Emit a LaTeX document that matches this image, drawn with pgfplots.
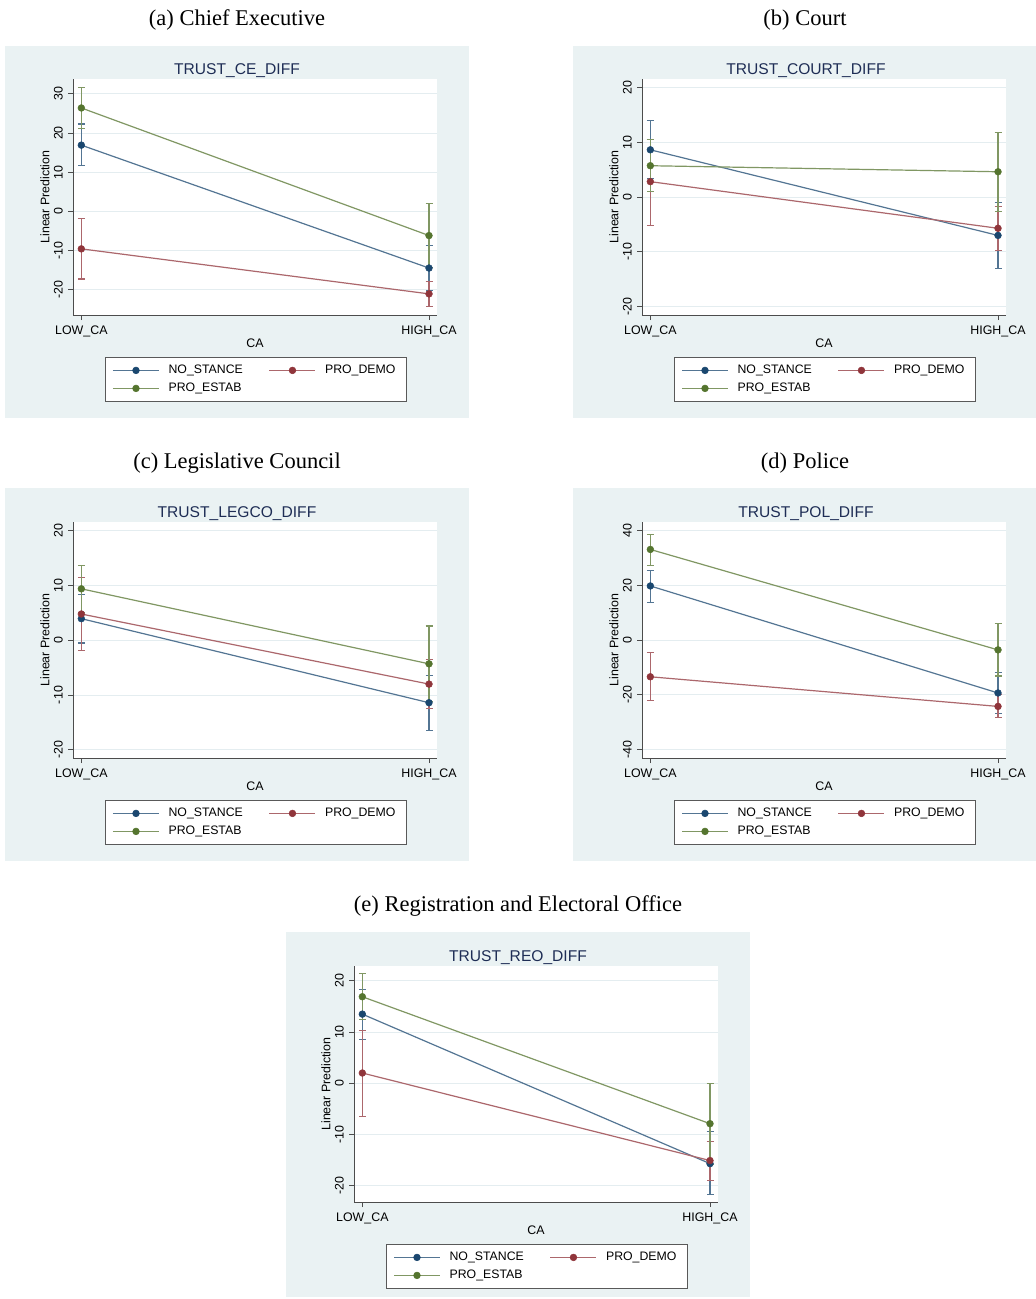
\documentclass[border=0pt]{standalone}
\usepackage{fontspec}
\setmainfont{Liberation Sans}
\newfontfamily\capfont{Liberation Serif}
\usepackage{pgfplots}
\usepackage{pgfplotstable}
\pgfplotsset{compat=1.18}

\definecolor{bg}{RGB}{234,242,243}
\definecolor{sNavy}{RGB}{26,71,111}
\definecolor{sMaroon}{RGB}{144,53,59}
\definecolor{sGreen}{RGB}{85,117,47}
\definecolor{titc}{RGB}{30,45,85}
\definecolor{gridc}{RGB}{228,237,240}

% x: 0 = LOW_CA, 1 = HIGH_CA ; y = prediction, p/m = CI distances
\pgfplotstableread{
x nsy nsp nsm pdy pdp pdm pey pep pem
0 16.9 5.4 5.3 -9.6 7.8 7.7 26.4 5.2 5.3
1 -14.5 5.7 5.7 -21.1 3.2 3.3 -6.2 8.1 8.1
}\tA
\pgfplotstableread{
x nsy nsp nsm pdy pdp pdm pey pep pem
0 8.6 5.3 5.3 2.8 7.7 8.0 5.7 4.8 4.7
1 -7.0 6.0 6.1 -5.7 3.9 4.0 4.6 7.1 7.3
}\tB
\pgfplotstableread{
x nsy nsp nsm pdy pdp pdm pey pep pem
0 3.95 4.35 4.45 4.8 6.7 6.6 9.4 4.3 4.3
1 -11.4 5.0 5.0 -8.0 4.5 4.5 -4.3 6.9 6.9
}\tC
\pgfplotstableread{
x nsy nsp nsm pdy pdp pdm pey pep pem
0 19.7 5.7 6.0 -13.4 8.8 8.8 33.0 5.5 5.7
1 -19.3 7.3 7.5 -24.2 4.4 4.1 -3.6 9.6 9.5
}\tD
\pgfplotstableread{
x nsy nsp nsm pdy pdp pdm pey pep pem
0 13.5 4.9 5.0 2.0 8.3 8.5 16.9 4.5 4.5
1 -15.7 6.3 6.1 -15.1 3.7 3.9 -7.9 7.9 7.9
}\tE

\pgfplotsset{
 stata/.style={
  scale only axis, width=364pt, height=236pt,
  anchor=north west,
  xmin=-0.024, xmax=1.023,
  xtick={0,1}, xticklabels={LOW\_CA,HIGH\_CA},
  axis x line*=bottom, axis y line*=left,
  axis line style={black!70, line width=0.8pt, -},
  tick align=outside, major tick length=5pt,
  tick style={black!70, line width=0.8pt},
  ymajorgrids, major grid style={gridc, line width=0.8pt},
  axis background/.style={fill=white},
  ticklabel style={font=\fontsize{12.4}{14}\selectfont},
  yticklabel style={rotate=90, anchor=south, inner sep=0pt, yshift=5pt},
  xticklabel style={anchor=north, inner sep=0pt, yshift=-5.5pt},
  /pgf/number format/assume math mode=true,
  xlabel={CA}, ylabel={Linear Prediction},
  label style={font=\fontsize{12.4}{14}\selectfont},
  xlabel style={at={(axis description cs:0.5,-0.1186)}, anchor=center},
  ylabel style={at={(axis description cs:-0.0769,0.5)}, anchor=center},
  every axis title shift=0pt,
  title style={at={(axis description cs:0.4505,1)}, anchor=base, yshift=5pt,
    font=\fontsize{15.6}{18}\selectfont, text=titc, inner sep=0pt},
  legend style={at={(axis description cs:0.0879,-0.178)}, anchor=north west,
    draw=black!65, line width=0.8pt, fill=white,
    font=\fontsize{12.3}{14}\selectfont,
    inner xsep=7pt, inner ysep=6pt, row sep=4pt, column sep=0pt,
    /tikz/every odd column/.append style={column sep=8pt},
    /tikz/every even column/.append style={column sep=25pt},
    nodes={inner sep=1pt, text height=9pt, text depth=3pt}},
  legend columns=2,
  legend cell align=left,
  legend image code/.code={\draw[mark repeat=2,mark phase=2,#1]
     plot coordinates {(0pt,0pt) (23pt,0pt) (46pt,0pt)};},
  error bars/y dir=both, error bars/y explicit,
  error bars/error bar style={line width=1.1pt},
  error bars/error mark options={rotate=90, mark size=3.5pt, line width=1.1pt},
 },
 ns/.style={color=sNavy!75!white, line width=1.2pt, mark=*, mark size=3.4pt,
   mark options={fill=sNavy, draw=sNavy, line width=0.5pt}},
 pd/.style={color=sMaroon!75!white, line width=1.2pt, mark=*, mark size=3.4pt,
   mark options={fill=sMaroon, draw=sMaroon, line width=0.5pt}},
 pe/.style={color=sGreen!75!white, line width=1.2pt, mark=*, mark size=3.4pt,
   mark options={fill=sGreen, draw=sGreen, line width=0.5pt}},
}

\newcommand{\threeplots}[1]{%
  \addplot[ns] table[x=x, y=nsy, y error plus=nsp, y error minus=nsm] {#1};
  \addplot[pd] table[x=x, y=pdy, y error plus=pdp, y error minus=pdm] {#1};
  \addplot[pe] table[x=x, y=pey, y error plus=pep, y error minus=pem] {#1};
  \legend{NO\_STANCE, \makebox[73pt][l]{PRO\_DEMO}, PRO\_ESTAB}
}

\begin{document}
\begin{tikzpicture}
\path[use as bounding box] (0,0) rectangle (1036pt,-1299pt);
\fill[bg] (5pt,-46pt) rectangle (469pt,-418pt);
\fill[bg] (573pt,-46pt) rectangle (1036pt,-418pt);
\fill[bg] (5pt,-488pt) rectangle (469pt,-861pt);
\fill[bg] (573pt,-488pt) rectangle (1036pt,-861pt);
\fill[bg] (286pt,-932pt) rectangle (750pt,-1297pt);

\begin{scope}[every node/.style={font=\capfont\fontsize{22.5}{26}\selectfont}]
\node[anchor=base] at (237pt,-25pt) {(a) Chief Executive};
\node[anchor=base] at (805pt,-25pt) {(b) Court};
\node[anchor=base] at (237pt,-468pt) {(c) Legislative Council};
\node[anchor=base] at (805pt,-468pt) {(d) Police};
\node[anchor=base] at (518pt,-911pt) {(e) Registration and Electoral Office};
\end{scope}

\begin{axis}[stata, at={(73pt,-79pt)}, title={TRUST\_CE\_DIFF},
  ymin=-26.5, ymax=33.8, ytick={-20,-10,0,10,20,30}]
\threeplots{\tA}
\end{axis}

\begin{axis}[stata, at={(642pt,-79pt)}, title={TRUST\_COURT\_DIFF},
  ymin=-21.5, ymax=21.5, ytick={-20,-10,0,10,20}]
\threeplots{\tB}
\end{axis}

\begin{axis}[stata, at={(73pt,-522pt)}, title={TRUST\_LEGCO\_DIFF},
  ymin=-21.5, ymax=21.6, ytick={-20,-10,0,10,20}]
\threeplots{\tC}
\end{axis}

\begin{axis}[stata, at={(642pt,-522pt)}, title={TRUST\_POL\_DIFF},
  ymin=-43, ymax=43, ytick={-40,-20,0,20,40}]
\threeplots{\tD}
\end{axis}

\begin{axis}[stata, at={(354pt,-966pt)}, title={TRUST\_REO\_DIFF},
  ymin=-23.2, ymax=22.9, ytick={-20,-10,0,10,20}]
\threeplots{\tE}
\end{axis}
\end{tikzpicture}
\end{document}
